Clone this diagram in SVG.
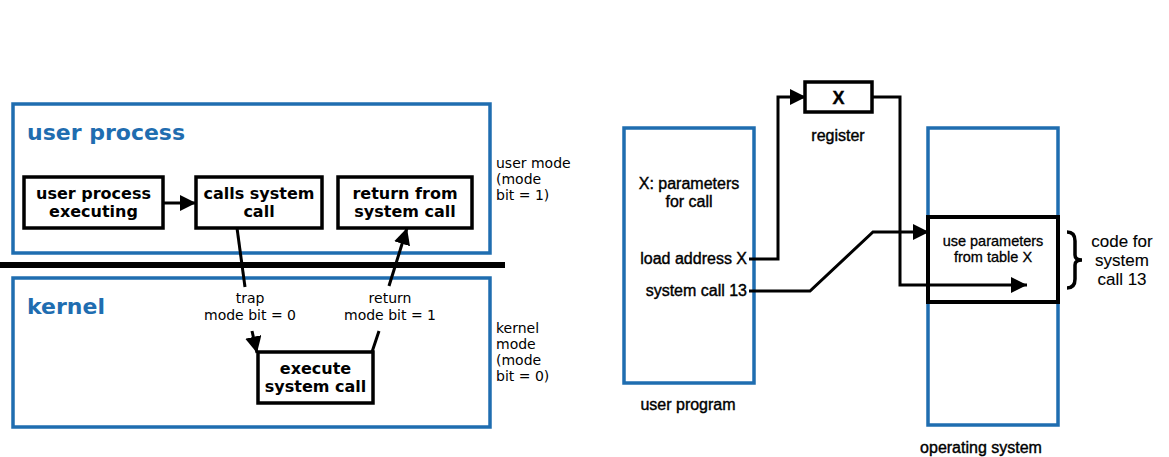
<svg xmlns="http://www.w3.org/2000/svg" width="1169" height="457" viewBox="0 0 1169 457">
<style>
.blue{fill:none;stroke:#1f6db0;stroke-width:3.5}
.box{fill:#fff;stroke:#000;stroke-width:3.5}
.title{font-family:"DejaVu Sans",sans-serif;font-weight:bold;font-size:22px;fill:#1f6db0}
.bt{font-family:"DejaVu Sans",sans-serif;font-weight:bold;font-size:16px;fill:#000;text-anchor:middle}
.sm{font-family:"DejaVu Sans",sans-serif;font-size:14px;fill:#000}
.smc{font-family:"DejaVu Sans",sans-serif;font-size:14px;fill:#000;text-anchor:middle}
.rt{font-family:"Liberation Sans",Arial,sans-serif;font-size:16px;fill:#000;stroke:#000;stroke-width:0.4}
.rtc{font-family:"Liberation Sans",Arial,sans-serif;font-size:16px;fill:#000;stroke:#000;stroke-width:0.4;text-anchor:middle}
.ln{fill:none;stroke:#000;stroke-width:3}
</style>
<defs>
<marker id="ah" viewBox="0 0 10 10" refX="10" refY="5" markerWidth="5.5" markerHeight="5.5" orient="auto" markerUnits="strokeWidth">
<path d="M0,0 L10,5 L0,10 z" fill="#000"/>
</marker>
</defs>
<g id="user-process">
<rect class="blue" x="13" y="104" width="477" height="149"/>
<text class="title" x="27" y="140">user process</text>
</g>
<g id="divider"><line x1="0" y1="265" x2="505" y2="265" stroke="#000" stroke-width="6"/></g>
<g id="kernel">
<rect class="blue" x="13" y="278" width="477" height="149"/>
<text class="title" x="27" y="314">kernel</text>
</g>
<g id="user-process-executing">
<rect class="box" x="24" y="177" width="139" height="51"/>
<text class="bt" x="93.5" y="199">user process</text>
<text class="bt" x="93.5" y="217">executing</text>
</g>
<g id="calls-system-call">
<rect class="box" x="196" y="177" width="126" height="51"/>
<text class="bt" x="259" y="199">calls system</text>
<text class="bt" x="259" y="217">call</text>
</g>
<g id="return-from-system-call">
<rect class="box" x="338" y="177" width="134" height="51"/>
<text class="bt" x="405" y="199">return from</text>
<text class="bt" x="405" y="217">system call</text>
</g>
<g id="execute-system-call">
<rect class="box" x="258" y="352" width="115" height="51"/>
<text class="bt" x="315.5" y="374">execute</text>
<text class="bt" x="315.5" y="392">system call</text>
</g>
<g id="mode-labels">
<text class="sm"><tspan x="496" y="168">user mode</tspan><tspan x="496" y="184">(mode</tspan><tspan x="496" y="200">bit = 1)</tspan></text>
<text class="sm"><tspan x="496" y="333">kernel</tspan><tspan x="496" y="349">mode</tspan><tspan x="496" y="365">(mode</tspan><tspan x="496" y="381">bit = 0)</tspan></text>
<text class="smc" x="250" y="303">trap</text>
<text class="smc" x="250" y="320">mode bit = 0</text>
<text class="smc" x="390" y="303">return</text>
<text class="smc" x="390" y="320">mode bit = 1</text>
</g>
<g id="user-program">
<rect class="blue" x="624" y="128" width="130" height="255"/>
<text class="rtc" x="689" y="189">X: parameters</text>
<text class="rtc" x="689" y="207">for call</text>
<text class="rt" x="747" y="264" text-anchor="end">load address X</text>
<text class="rt" x="747" y="296" text-anchor="end">system call 13</text>
<text class="rtc" x="688" y="410">user program</text>
</g>
<g id="register">
<rect class="box" x="805" y="82" width="67" height="30"/>
<text class="rtc" x="838.5" y="104" style="font-size:18px;font-weight:bold">X</text>
<text class="rtc" x="838" y="141">register</text>
</g>
<g id="operating-system">
<rect class="blue" x="928" y="128" width="130" height="297"/>
<text class="rtc" x="981" y="453">operating system</text>
</g>
<g id="use-parameters">
<rect class="box" x="928" y="217" width="130" height="85" style="stroke-width:4"/>
<text class="rtc" x="993" y="246" style="font-size:14.5px;stroke-width:0.3">use parameters</text>
<text class="rtc" x="993" y="262" style="font-size:14.5px;stroke-width:0.3">from table X</text>
</g>
<g id="code-label">
<path d="M1067,232 q8,0 8,9 v14 q0,5 7,5 q-7,0 -7,5 v14 q0,9 -8,9" fill="none" stroke="#000" stroke-width="3.5"/>
<text class="rtc" style="font-size:17px;stroke-width:0.1"><tspan x="1122" y="247">code for</tspan><tspan x="1122" y="266">system</tspan><tspan x="1122" y="285">call 13</tspan></text>
</g>
<g id="connectors">
<line class="ln" x1="163" y1="203" x2="196" y2="203" marker-end="url(#ah)"/>
<line class="ln" x1="237" y1="228" x2="245" y2="287"/>
<line class="ln" x1="252" y1="331" x2="257" y2="353" marker-end="url(#ah)"/>
<line class="ln" x1="372" y1="352" x2="379" y2="331"/>
<line class="ln" x1="389" y1="286" x2="407" y2="228" marker-end="url(#ah)"/>
<polyline class="ln" points="749,259 778,259 778,97 806,97" marker-end="url(#ah)"/>
<polyline class="ln" points="872,97 900,97 900,285 1027,285" marker-end="url(#ah)"/>
<polyline class="ln" points="749,291 810,291 873,232 929,232" marker-end="url(#ah)"/>
</g>
</svg>
